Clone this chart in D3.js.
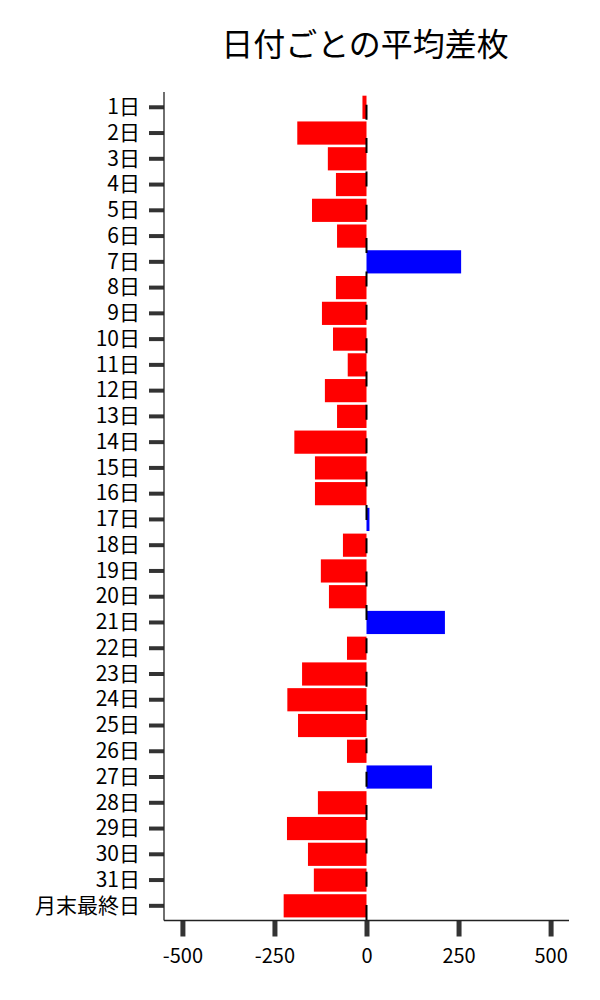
<!DOCTYPE html>
<html>
<head>
<meta charset="utf-8">
<script src="https://cdn.jsdelivr.net/npm/d3@7"></script>
<style>
  html, body { margin: 0; padding: 0; background: #fff; }
  svg { display: block; font-family: "Noto Sans CJK JP", "Noto Sans", sans-serif; }
</style>
</head>
<body>
<svg id="chart" width="600" height="1000"></svg>
<script>
const title = "日付ごとの平均差枚";
const categories = ["1日","2日","3日","4日","5日","6日","7日","8日","9日","10日",
  "11日","12日","13日","14日","15日","16日","17日","18日","19日","20日",
  "21日","22日","23日","24日","25日","26日","27日","28日","29日","30日",
  "31日","月末最終日"];
const values = [-11, -188, -105, -83, -148, -80, 257, -83, -121, -91,
  -51, -113, -80, -196, -140, -140, 8, -64, -124, -102,
  213, -53, -175, -215, -186, -53, 178, -132, -216, -159,
  -143, -225];
const xTicks = [-500, -250, 0, 250, 500];
const xDomain = [-550, 550];

(function () {
const svg = d3.select("#chart");
const pLeft = 164, pRight = 569, pTop = 94.4, pBottom = 918.7, axisY = 920.5, axisTop = 92;

const x = d3.scaleLinear().domain(xDomain).range([pLeft, pRight]);
const y = d3.scaleBand().domain(categories).range([pTop, pBottom])
  .paddingInner(0.1).paddingOuter(0.05);

// bars
svg.append("g").selectAll("rect").data(values).join("rect")
  .attr("x", (d) => x(Math.min(0, d)))
  .attr("width", (d) => Math.abs(x(d) - x(0)))
  .attr("y", (d, i) => y(categories[i]))
  .attr("height", y.bandwidth())
  .attr("fill", (d) => d < 0 ? "#ff0000" : "#0000ff");

// y axis
const yAxis = svg.append("g").attr("transform", `translate(${pLeft},0)`)
  .call(d3.axisLeft(y).tickSize(15).tickPadding(9).tickSizeOuter(0));
yAxis.select(".domain").remove();
yAxis.selectAll(".tick line").attr("stroke", "#333").attr("stroke-width", 4);
yAxis.selectAll(".tick text").attr("fill", "#000").style("font-size", "21px")
  .style("font-family", '"Noto Sans CJK JP", sans-serif');

// x axis
const xAxis = svg.append("g").attr("transform", `translate(0,${axisY})`)
  .call(d3.axisBottom(x).tickValues(xTicks).tickFormat((d) => d < 0 ? "-" + Math.abs(d) : String(d))
    .tickSize(16).tickPadding(12).tickSizeOuter(0));
xAxis.select(".domain").remove();
xAxis.selectAll(".tick line").attr("stroke", "#333").attr("stroke-width", 5);
xAxis.selectAll(".tick text").attr("fill", "#000").style("font-size", "20px")
  .style("font-family", '"Noto Sans CJK JP", sans-serif');

// spines
svg.append("line").attr("x1", pLeft).attr("x2", pLeft).attr("y1", axisTop).attr("y2", axisY)
  .attr("stroke", "#222").attr("stroke-width", 1.3);
svg.append("line").attr("x1", pLeft).attr("x2", pRight).attr("y1", axisY).attr("y2", axisY)
  .attr("stroke", "#222").attr("stroke-width", 1.3);

// zero dashed line
svg.append("line").attr("x1", x(0)).attr("x2", x(0)).attr("y1", 104.7).attr("y2", axisY)
  .attr("stroke", "#000").attr("stroke-width", 2).attr("stroke-dasharray", "15 18.35");

// title
svg.append("text").attr("x", 365).attr("y", 42)
  .attr("text-anchor", "middle").attr("dominant-baseline", "central")
  .style("font-size", "32px").attr("fill", "#000").text(title);
})();
</script>
</body>
</html>
